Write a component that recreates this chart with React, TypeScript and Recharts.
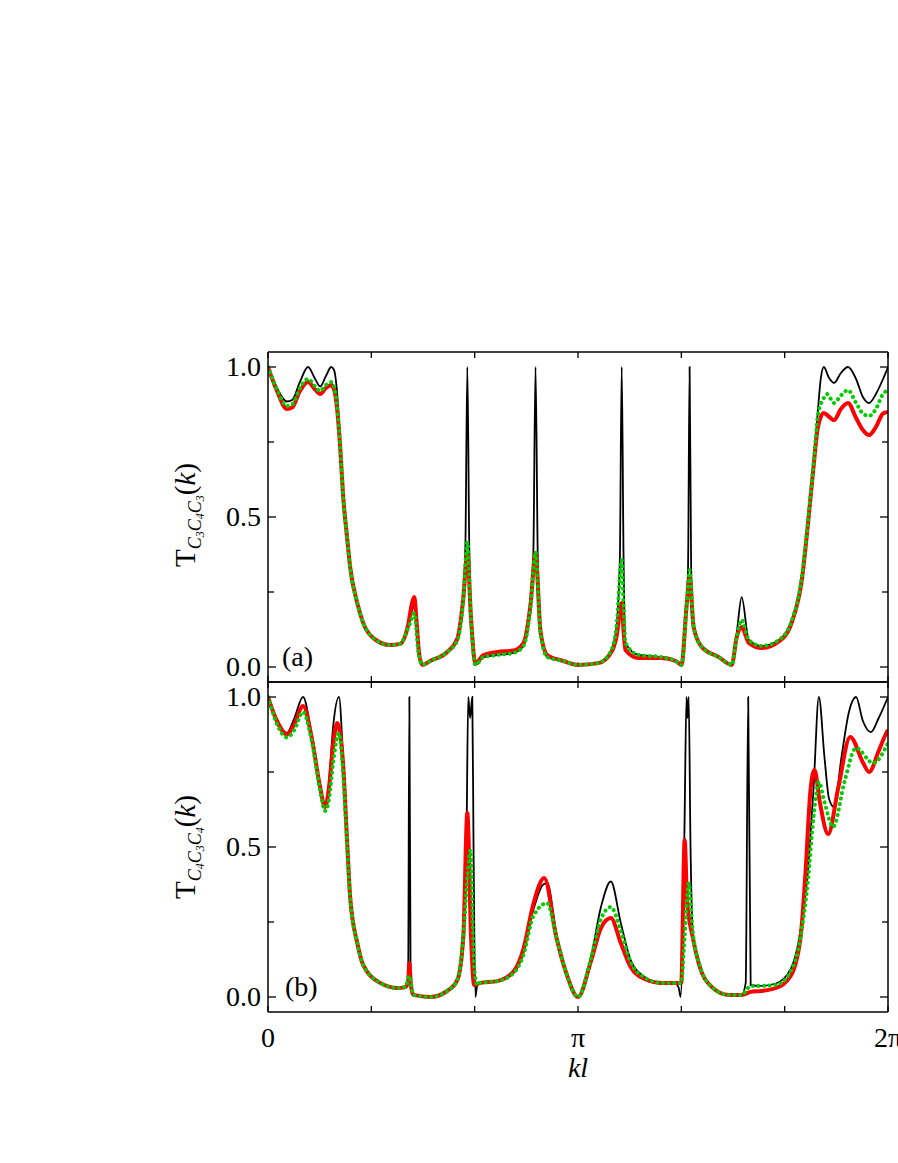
import React from "react";
import { LineChart, Line, XAxis, YAxis } from "recharts";

// x = kl / pi, y = transmission T(k)
const A_BLACK: [number, number][] = [
  [0, 1.0], [0.029, 0.93], [0.061, 0.885], [0.078, 0.89], [0.103, 0.95], [0.129, 1.0],
  [0.152, 0.96], [0.168, 0.935], [0.187, 0.97], [0.204, 1.0], [0.213, 0.99], [0.223, 0.913],
  [0.233, 0.747], [0.242, 0.58], [0.255, 0.433], [0.265, 0.333], [0.288, 0.213], [0.307, 0.147],
  [0.339, 0.097], [0.394, 0.073], [0.426, 0.077], [0.452, 0.133], [0.465, 0.19], [0.472, 0.205],
  [0.485, 0.06], [0.498, 0.007], [0.523, 0.02], [0.578, 0.05], [0.611, 0.09], [0.63, 0.223],
  [0.637, 0.42], [0.643, 1.0], [0.649, 0.42], [0.655, 0.157], [0.669, 0.007], [0.695, 0.033],
  [0.74, 0.04], [0.792, 0.047], [0.824, 0.07], [0.847, 0.2], [0.856, 0.38], [0.863, 1.0],
  [0.87, 0.38], [0.879, 0.113], [0.901, 0.033], [0.953, 0.02], [0.99, 0.007], [1.0, 0.012],
  [1.01, 0.007], [1.066, 0.013], [1.108, 0.057], [1.124, 0.133], [1.135, 0.36], [1.141, 1.0],
  [1.147, 0.36], [1.153, 0.08], [1.196, 0.04], [1.27, 0.033], [1.315, 0.02], [1.334, 0.007],
  [1.35, 0.2], [1.355, 0.33], [1.36, 1.0], [1.365, 0.33], [1.373, 0.133], [1.399, 0.067],
  [1.454, 0.033], [1.496, 0.007], [1.512, 0.113], [1.528, 0.233], [1.551, 0.09], [1.593, 0.07],
  [1.648, 0.09], [1.69, 0.157], [1.722, 0.3], [1.745, 0.523], [1.761, 0.69], [1.774, 0.857],
  [1.783, 0.96], [1.793, 1.0], [1.809, 0.965], [1.826, 0.947], [1.848, 0.98], [1.871, 1.0],
  [1.897, 0.96], [1.919, 0.9], [1.939, 0.88], [1.961, 0.91], [1.984, 0.96], [2.0, 1.0],
];

const A_RED: [number, number][] = [
  [0, 1.0], [0.029, 0.92], [0.061, 0.86], [0.078, 0.865], [0.103, 0.92], [0.129, 0.95],
  [0.152, 0.925], [0.168, 0.91], [0.187, 0.93], [0.204, 0.94], [0.213, 0.925], [0.223, 0.86],
  [0.233, 0.73], [0.242, 0.575], [0.255, 0.433], [0.265, 0.333], [0.288, 0.213], [0.307, 0.147],
  [0.339, 0.097], [0.394, 0.073], [0.426, 0.077], [0.452, 0.14], [0.465, 0.215], [0.472, 0.233],
  [0.48, 0.14], [0.488, 0.04], [0.498, 0.007], [0.523, 0.02], [0.578, 0.05], [0.611, 0.095],
  [0.63, 0.23], [0.643, 0.38], [0.655, 0.16], [0.669, 0.012], [0.695, 0.04], [0.74, 0.05],
  [0.792, 0.055], [0.824, 0.08], [0.847, 0.21], [0.863, 0.38], [0.879, 0.12], [0.901, 0.04],
  [0.953, 0.02], [1.0, 0.007], [1.066, 0.013], [1.108, 0.05], [1.124, 0.1], [1.141, 0.213],
  [1.147, 0.12], [1.153, 0.057], [1.196, 0.03], [1.27, 0.03], [1.315, 0.02], [1.334, 0.007],
  [1.35, 0.2], [1.36, 0.3], [1.373, 0.133], [1.399, 0.067], [1.454, 0.033], [1.496, 0.007],
  [1.512, 0.1], [1.528, 0.133], [1.551, 0.08], [1.593, 0.063], [1.648, 0.085], [1.69, 0.15],
  [1.722, 0.29], [1.745, 0.51], [1.761, 0.68], [1.774, 0.8], [1.793, 0.847], [1.809, 0.835],
  [1.826, 0.823], [1.848, 0.86], [1.871, 0.88], [1.897, 0.83], [1.919, 0.79], [1.939, 0.773],
  [1.961, 0.8], [1.984, 0.845], [2.0, 0.85],
];

const A_GREEN: [number, number][] = [
  [0, 1.0], [0.029, 0.925], [0.061, 0.87], [0.078, 0.875], [0.103, 0.93], [0.129, 0.96],
  [0.152, 0.935], [0.168, 0.92], [0.187, 0.94], [0.204, 0.95], [0.213, 0.935], [0.223, 0.87],
  [0.233, 0.735], [0.242, 0.575], [0.255, 0.433], [0.265, 0.333], [0.288, 0.213], [0.307, 0.147],
  [0.339, 0.097], [0.394, 0.073], [0.426, 0.077], [0.452, 0.13], [0.465, 0.165], [0.472, 0.18],
  [0.485, 0.05], [0.498, 0.007], [0.523, 0.02], [0.578, 0.05], [0.611, 0.09], [0.63, 0.223],
  [0.643, 0.417], [0.655, 0.157], [0.669, 0.007], [0.695, 0.033], [0.74, 0.04], [0.792, 0.047],
  [0.824, 0.07], [0.847, 0.2], [0.863, 0.383], [0.879, 0.113], [0.901, 0.033], [0.953, 0.02],
  [1.0, 0.007], [1.066, 0.013], [1.108, 0.057], [1.124, 0.133], [1.141, 0.357], [1.147, 0.2],
  [1.153, 0.08], [1.196, 0.04], [1.27, 0.033], [1.315, 0.02], [1.334, 0.007], [1.35, 0.2],
  [1.36, 0.323], [1.373, 0.133], [1.399, 0.067], [1.454, 0.033], [1.496, 0.007], [1.512, 0.1],
  [1.528, 0.157], [1.551, 0.09], [1.593, 0.07], [1.648, 0.09], [1.69, 0.155], [1.722, 0.3],
  [1.745, 0.52], [1.761, 0.69], [1.774, 0.84], [1.793, 0.897], [1.803, 0.91], [1.826, 0.88],
  [1.848, 0.905], [1.871, 0.923], [1.897, 0.88], [1.919, 0.845], [1.939, 0.837], [1.961, 0.86],
  [1.984, 0.91], [2.0, 0.923],
];

const B_BLACK: [number, number][] = [
  [0, 1.0], [0.029, 0.92], [0.061, 0.88], [0.085, 0.93], [0.113, 1.0], [0.14, 0.88],
  [0.168, 0.7], [0.184, 0.633], [0.197, 0.72], [0.21, 0.9], [0.229, 1.0], [0.242, 0.8],
  [0.255, 0.523], [0.265, 0.333], [0.288, 0.18], [0.307, 0.107], [0.362, 0.047], [0.417, 0.03],
  [0.443, 0.033], [0.452, 0.06], [0.456, 1.0], [0.46, 0.06], [0.469, 0.007], [0.523, 0.0],
  [0.578, 0.02], [0.611, 0.057], [0.63, 0.2], [0.64, 0.5], [0.646, 1.0], [0.652, 0.93],
  [0.659, 1.0], [0.663, 0.5], [0.669, 0.0], [0.675, 0.04], [0.685, 0.047], [0.74, 0.053],
  [0.792, 0.08], [0.824, 0.147], [0.856, 0.29], [0.888, 0.375], [0.901, 0.38], [0.93, 0.21],
  [0.962, 0.08], [1.0, 0.0], [1.042, 0.133], [1.074, 0.3], [1.106, 0.385], [1.138, 0.247],
  [1.17, 0.123], [1.215, 0.067], [1.267, 0.047], [1.312, 0.047], [1.325, 0.03], [1.331, 0.0],
  [1.338, 0.2], [1.344, 0.6], [1.35, 1.0], [1.353, 0.93], [1.357, 1.0], [1.363, 0.5],
  [1.37, 0.22], [1.39, 0.113], [1.432, 0.033], [1.486, 0.007], [1.528, 0.007], [1.541, 0.047],
  [1.549, 1.0], [1.557, 0.04], [1.59, 0.037], [1.638, 0.045], [1.686, 0.093], [1.718, 0.223],
  [1.741, 0.413], [1.76, 0.7], [1.777, 1.0], [1.795, 0.8], [1.81, 0.66], [1.826, 0.633],
  [1.85, 0.8], [1.874, 0.95], [1.897, 1.0], [1.919, 0.92], [1.945, 0.883], [1.97, 0.93],
  [2.0, 1.0],
];

const B_RED: [number, number][] = [
  [0, 1.0], [0.029, 0.92], [0.061, 0.875], [0.085, 0.91], [0.113, 0.97], [0.14, 0.87],
  [0.168, 0.7], [0.184, 0.633], [0.197, 0.7], [0.21, 0.84], [0.223, 0.913], [0.242, 0.78],
  [0.255, 0.523], [0.265, 0.333], [0.288, 0.18], [0.307, 0.107], [0.362, 0.047], [0.417, 0.03],
  [0.443, 0.033], [0.452, 0.05], [0.456, 0.113], [0.461, 0.04], [0.469, 0.007], [0.523, 0.0],
  [0.578, 0.02], [0.611, 0.057], [0.63, 0.2], [0.643, 0.613], [0.655, 0.2], [0.665, 0.04],
  [0.685, 0.047], [0.74, 0.053], [0.792, 0.085], [0.824, 0.16], [0.856, 0.31], [0.891, 0.397],
  [0.93, 0.2], [0.962, 0.08], [1.0, 0.0], [1.042, 0.12], [1.074, 0.23], [1.106, 0.263],
  [1.138, 0.18], [1.17, 0.1], [1.215, 0.06], [1.267, 0.047], [1.312, 0.047], [1.333, 0.047],
  [1.344, 0.523], [1.352, 0.32], [1.37, 0.2], [1.39, 0.11], [1.432, 0.033], [1.486, 0.007],
  [1.528, 0.007], [1.557, 0.017], [1.59, 0.02], [1.638, 0.03], [1.686, 0.07], [1.718, 0.2],
  [1.733, 0.4], [1.75, 0.69], [1.763, 0.757], [1.78, 0.65], [1.807, 0.543], [1.84, 0.7],
  [1.878, 0.867], [1.92, 0.78], [1.939, 0.75], [1.97, 0.82], [1.99, 0.87], [2.0, 0.89],
];

const B_GREEN: [number, number][] = [
  [0, 1.0], [0.029, 0.91], [0.061, 0.865], [0.085, 0.89], [0.113, 0.95], [0.14, 0.86],
  [0.168, 0.69], [0.184, 0.62], [0.197, 0.66], [0.21, 0.78], [0.229, 0.88], [0.242, 0.75],
  [0.255, 0.51], [0.265, 0.333], [0.288, 0.18], [0.307, 0.107], [0.362, 0.047], [0.417, 0.03],
  [0.443, 0.033], [0.456, 0.07], [0.469, 0.007], [0.523, 0.0], [0.578, 0.02], [0.611, 0.057],
  [0.63, 0.2], [0.643, 0.4], [0.653, 0.49], [0.665, 0.1], [0.675, 0.04], [0.685, 0.047],
  [0.74, 0.053], [0.792, 0.08], [0.824, 0.14], [0.856, 0.27], [0.901, 0.313], [0.93, 0.2],
  [0.962, 0.08], [1.0, 0.0], [1.042, 0.13], [1.074, 0.26], [1.106, 0.3], [1.138, 0.22],
  [1.17, 0.115], [1.215, 0.065], [1.267, 0.047], [1.312, 0.047], [1.333, 0.047], [1.344, 0.2],
  [1.357, 0.38], [1.37, 0.22], [1.39, 0.113], [1.432, 0.033], [1.486, 0.007], [1.528, 0.007],
  [1.557, 0.037], [1.59, 0.037], [1.638, 0.04], [1.686, 0.085], [1.718, 0.2], [1.741, 0.38],
  [1.76, 0.6], [1.777, 0.717], [1.795, 0.65], [1.823, 0.567], [1.86, 0.72], [1.897, 0.83],
  [1.952, 0.78], [2.0, 0.847],
];

const X_TICKS = [0, 1 / 3, 2 / 3, 1, 4 / 3, 5 / 3, 2];
const X_TICK_LABELS = ["0", "", "", "π", "", "", "2π"];
const Y_TICKS = [0, 0.25, 0.5, 0.75, 1];
const Y_TICK_LABELS = ["0.0", "", "0.5", "", "1.0"];

const SERIF = "'Liberation Serif', 'Times New Roman', serif";
const W = 898;
const H = 1163;

const toXY = (pts: [number, number][]) => pts.map(([x, y]) => ({ x, y }));

// ticks point inward; tickSize/tickMargin are 0 so (x, y) is on the frame
const leftTick = (props: any) => {
  const { x, y, index } = props;
  const lbl = Y_TICK_LABELS[index];
  return (
    <g>
      <line x1={x} x2={x + (lbl ? 8 : 6)} y1={y} y2={y} stroke="#000" strokeWidth={1.3} />
      {lbl && (
        <text x={x - 7} y={y + 9} textAnchor="end" fontSize={28} fontFamily={SERIF} fill="#000">
          {lbl}
        </text>
      )}
    </g>
  );
};

const rightTick = (props: any) => {
  const { x, y, index } = props;
  const len = Y_TICK_LABELS[index] ? 8 : 6;
  return <line x1={x} x2={x - len} y1={y} y2={y} stroke="#000" strokeWidth={1.3} />;
};

const topTick = (props: any) => {
  const { x, y } = props;
  return <line x1={x} x2={x} y1={y} y2={y + 6} stroke="#000" strokeWidth={1.3} />;
};

const bottomTick = (withLabel: boolean) => (props: any) => {
  const { x, y, index } = props;
  const lbl = X_TICK_LABELS[index];
  return (
    <g>
      <line x1={x} x2={x} y1={y} y2={y - 6} stroke="#000" strokeWidth={1.3} />
      {withLabel && lbl && (
        <text x={x} y={y + 35} textAnchor="middle" fontSize={28} fontFamily={SERIF} fill="#000">
          {lbl}
        </text>
      )}
    </g>
  );
};

const frame = { stroke: "#000", strokeWidth: 1.5 };

const Panel = ({
  top,
  bottom,
  black,
  red,
  green,
  labels,
}: {
  top: number;
  bottom: number;
  black: [number, number][];
  red: [number, number][];
  green: [number, number][];
  labels: boolean;
}) => (
  <div style={{ position: "absolute", left: 0, top: 0 }}>
    <LineChart width={W} height={H} margin={{ top: top - 1, right: 9, bottom: H - bottom - 1, left: 267 }}>
      <XAxis
        xAxisId="b"
        dataKey="x"
        type="number"
        domain={[0, 2]}
        allowDataOverflow
        ticks={X_TICKS}
        interval={0}
        height={1}
        tickSize={0}
        tickMargin={0}
        tickLine={false}
        axisLine={frame}
        tick={bottomTick(labels)}
      />
      <XAxis
        xAxisId="t"
        orientation="top"
        dataKey="x"
        type="number"
        domain={[0, 2]}
        allowDataOverflow
        ticks={X_TICKS}
        interval={0}
        height={1}
        tickSize={0}
        tickMargin={0}
        tickLine={false}
        axisLine={frame}
        tick={topTick}
      />
      <YAxis
        yAxisId="l"
        type="number"
        domain={[-0.05, 1.05]}
        allowDataOverflow
        ticks={Y_TICKS}
        interval={0}
        width={1}
        tickSize={0}
        tickMargin={0}
        tickLine={false}
        axisLine={frame}
        tick={leftTick}
      />
      <YAxis
        yAxisId="r"
        orientation="right"
        type="number"
        domain={[-0.05, 1.05]}
        allowDataOverflow
        ticks={Y_TICKS}
        interval={0}
        width={1}
        tickSize={0}
        tickMargin={0}
        tickLine={false}
        axisLine={frame}
        tick={rightTick}
      />
      <Line
        xAxisId="b"
        yAxisId="l"
        data={toXY(black)}
        dataKey="y"
        type="monotone"
        stroke="#000"
        strokeWidth={1.8}
        dot={false}
        isAnimationActive={false}
      />
      <Line
        xAxisId="b"
        yAxisId="l"
        data={toXY(red)}
        dataKey="y"
        type="monotone"
        stroke="#ff0000"
        strokeWidth={4}
        dot={false}
        isAnimationActive={false}
      />
      <Line
        xAxisId="b"
        yAxisId="l"
        data={toXY(green)}
        dataKey="y"
        type="monotone"
        stroke="#00cc00"
        strokeWidth={4}
        strokeDasharray="0.1 5.5"
        strokeLinecap="round"
        dot={false}
        isAnimationActive={false}
      />
    </LineChart>
  </div>
);

const YTitle = ({ x, y, a, b }: { x: number; y: number; a: string; b: string }) => (
  <text
    x={x}
    y={y}
    transform={`rotate(-90 ${x} ${y})`}
    textAnchor="middle"
    fontFamily={SERIF}
    fontSize={29}
    fill="#000"
  >
    T
    <tspan fontSize={18} fontStyle="italic" dy={6}>C</tspan>
    <tspan fontSize={12} fontStyle="italic" dy={3}>{a}</tspan>
    <tspan fontSize={18} fontStyle="italic" dy={-3}>C</tspan>
    <tspan fontSize={12} fontStyle="italic" dy={3}>{b}</tspan>
    <tspan fontSize={18} fontStyle="italic" dy={-3}>C</tspan>
    <tspan fontSize={12} fontStyle="italic" dy={3}>{a}</tspan>
    <tspan dy={-9}>(</tspan>
    <tspan fontStyle="italic">k</tspan>
    <tspan>)</tspan>
  </text>
);

export default function App() {
  return (
    <div style={{ position: "absolute", left: 0, top: 0, width: W, height: H, background: "#fff" }}>
      <Panel top={352} bottom={682} black={A_BLACK} red={A_RED} green={A_GREEN} labels={false} />
      <Panel top={682} bottom={1012} black={B_BLACK} red={B_RED} green={B_GREEN} labels={true} />
      <svg width={W} height={H} style={{ position: "absolute", left: 0, top: 0, pointerEvents: "none" }}>
        <YTitle x={195} y={515} a="3" b="4" />
        <YTitle x={195} y={847} a="4" b="3" />
        <text x={282} y={666} fontFamily={SERIF} fontSize={28} fill="#000">(a)</text>
        <text x={285} y={996} fontFamily={SERIF} fontSize={28} fill="#000">(b)</text>
        <text x={578} y={1077} textAnchor="middle" fontFamily={SERIF} fontSize={28} fontStyle="italic" fill="#000">
          kl
        </text>
      </svg>
    </div>
  );
}
